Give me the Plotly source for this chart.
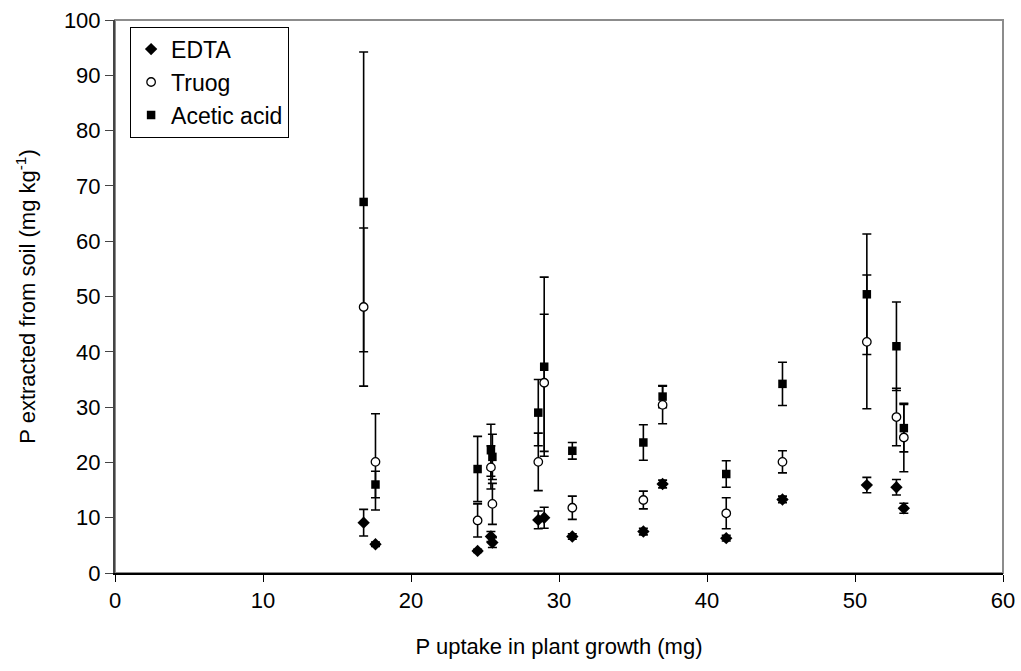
import plotly.graph_objects as go

# P uptake in plant growth (mg)
uptake = [16.8, 17.6, 24.5, 25.4, 25.5, 28.6, 29.0, 30.9, 35.7, 37.0, 41.3, 45.1, 50.8, 52.8, 53.3]

edta = [9.1, 5.2, 4.0, 6.6, 5.5, 9.6, 10.0, 6.6, 7.5, 16.1, 6.3, 13.3, 15.9, 15.5, 11.7]
edta_err = [2.4, 0.4, 0.3, 0.9, 0.9, 1.6, 1.9, 0.5, 0.6, 0.7, 0.5, 0.6, 1.4, 1.4, 0.9]

truog = [48.1, 20.1, 9.5, 19.1, 12.5, 20.1, 34.4, 11.8, 13.2, 30.4, 10.8, 20.1, 41.8, 28.2, 24.5]
truog_err = [14.3, 8.7, 3.0, 3.9, 3.7, 5.2, 12.4, 2.1, 1.6, 3.4, 2.8, 2.0, 12.1, 5.2, 6.2]

acetic = [67.1, 16.0, 18.8, 22.2, 21.0, 29.0, 37.3, 22.1, 23.6, 31.9, 17.9, 34.2, 50.4, 41.0, 26.2]
acetic_err = [27.1, 2.4, 5.9, 4.7, 4.1, 6.0, 16.2, 1.5, 3.2, 2.0, 2.4, 3.9, 10.9, 8.0, 4.3]

FONT = "Liberation Sans, Arial, sans-serif"

def err(vals):
    return dict(type="data", array=vals, visible=True, color="black",
                thickness=1.6, width=4.5)

fig = go.Figure()
# drawn back-to-front: Acetic, Truog, EDTA; legend ordered by legendrank
fig.add_trace(go.Scatter(
    x=uptake, y=acetic, mode="markers", name="Acetic acid", legendrank=3,
    marker=dict(symbol="square", size=8.5, color="black", line=dict(width=0)),
    error_y=err(acetic_err)))
fig.add_trace(go.Scatter(
    x=uptake, y=truog, mode="markers", name="Truog", legendrank=2,
    marker=dict(symbol="circle", size=8.5, color="white", line=dict(color="black", width=1.3)),
    error_y=err(truog_err)))
fig.add_trace(go.Scatter(
    x=uptake, y=edta, mode="markers", name="EDTA", legendrank=1,
    marker=dict(symbol="diamond", size=9.5, color="black", line=dict(width=0)),
    error_y=err(edta_err)))

fig.update_layout(
    width=1021, height=671,
    margin=dict(l=115, r=18, t=20, b=98),
    paper_bgcolor="white", plot_bgcolor="white",
    font=dict(family=FONT, size=22, color="black"),
    showlegend=True,
    legend=dict(
        x=0.017, y=0.988, xanchor="left", yanchor="top",
        bgcolor="white", bordercolor="black", borderwidth=1,
        font=dict(family=FONT, size=23, color="black"),
        traceorder="normal", itemwidth=30,
    ),
    shapes=[dict(type="rect", xref="paper", yref="paper", x0=0, y0=0, x1=1, y1=1,
                 line=dict(color="#8c8c8c", width=2), layer="below")],
)

fig.update_xaxes(
    range=[0, 60], dtick=10, tick0=0, automargin=False,
    showgrid=False, zeroline=False,
    showline=True, linecolor="black", linewidth=2,
    ticks="outside", ticklen=7, tickcolor="black", tickwidth=1,
    tickfont=dict(family=FONT, size=22, color="black"),
    title=dict(text="P uptake in plant growth (mg)", standoff=26,
               font=dict(family=FONT, size=22, color="black")),
)
fig.update_yaxes(
    range=[0, 100], dtick=10, tick0=0, automargin=False,
    showgrid=False, zeroline=False,
    showline=True, linecolor="#444", linewidth=2,
    ticks="outside", ticklen=8, tickcolor="#444", tickwidth=1,
    tickfont=dict(family=FONT, size=22, color="black"),
    title=dict(text="P extracted from soil (mg kg<sup>-1</sup>)", standoff=22,
               font=dict(family=FONT, size=22, color="black")),
)

fig.write_html("out.html")
